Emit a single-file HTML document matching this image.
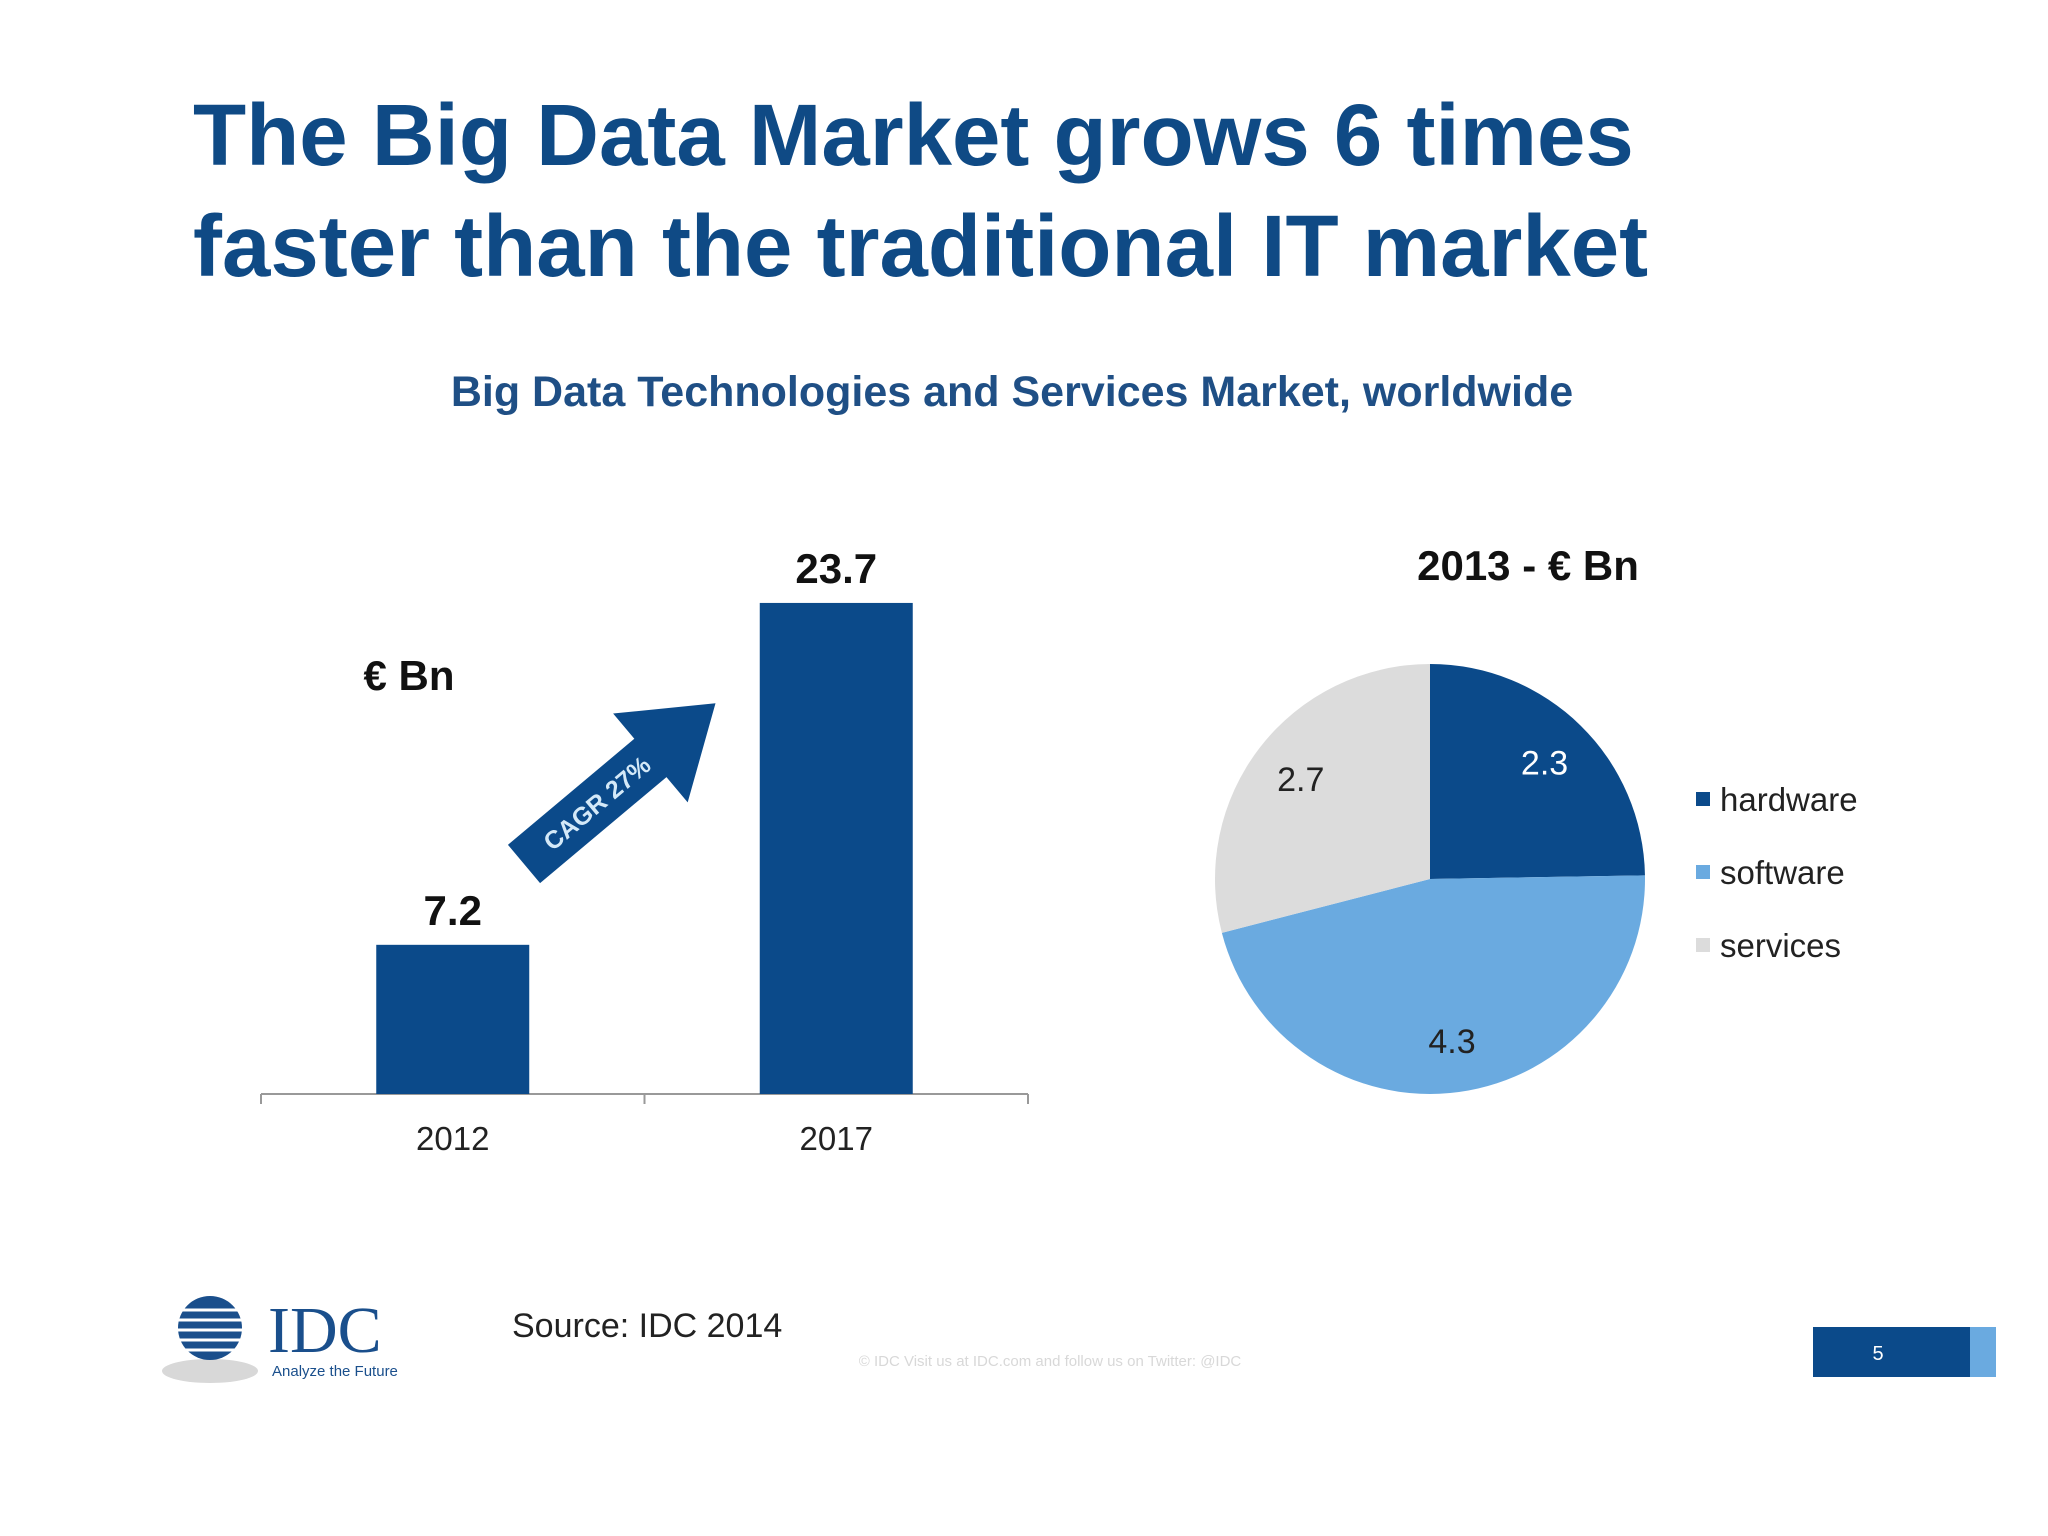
<!DOCTYPE html>
<html><head><meta charset="utf-8"><style>
html,body{margin:0;padding:0;background:#fff;}
svg{display:block;font-family:"Liberation Sans",Arial,sans-serif;}
</style></head><body>
<svg id="s" width="2048" height="1536" viewBox="0 0 2048 1536">
<rect width="2048" height="1536" fill="#fff"/>
<text x="193" y="165" font-size="87" font-weight="bold" fill="#0f4a85">The Big Data Market grows 6 times</text>
<text x="193" y="276" font-size="87" font-weight="bold" fill="#0f4a85">faster than the traditional IT market</text>
<text x="1012" y="406" font-size="43" font-weight="bold" fill="#1f4f85" text-anchor="middle">Big Data Technologies and Services Market, worldwide</text>
<text x="409" y="690" font-size="42" font-weight="bold" fill="#111" text-anchor="middle">€ Bn</text>
<g id="bars"></g>
<g transform="translate(524,864) rotate(-40)">
<polygon points="0,-25 165,-25 165,-58 250,0 165,58 165,25 0,25" fill="#0b4a8a"/>
<text x="95" y="9" font-size="25" font-weight="bold" fill="#d4e9f8" text-anchor="middle">CAGR 27%</text>
</g>
<text x="1528" y="580" font-size="42" font-weight="bold" fill="#111" text-anchor="middle">2013 - € Bn</text>
<g id="pie"></g>
<g id="legend"></g>
<g>
<ellipse cx="210" cy="1371" rx="48" ry="12" fill="#d8d8d8"/>
<circle cx="210" cy="1328" r="32" fill="#1a4f8c"/>
<g stroke="#fff" stroke-width="3"><line x1="160" y1="1310" x2="262" y2="1310"/><line x1="160" y1="1320" x2="262" y2="1320"/><line x1="160" y1="1330" x2="262" y2="1330"/><line x1="160" y1="1340" x2="262" y2="1340"/><line x1="160" y1="1350" x2="262" y2="1350"/></g>
<text x="268" y="1352" font-size="66" font-family="Liberation Serif,serif" fill="#1a4f8c">IDC</text>
<text x="272" y="1376" font-size="15" fill="#1a4f8c">Analyze the Future</text>
</g>
<text x="512" y="1337" font-size="34" fill="#222">Source: IDC 2014</text>
<text x="1050" y="1366" font-size="15" fill="#d8d8d8" text-anchor="middle">© IDC   Visit us at IDC.com and follow us on Twitter: @IDC</text>
<g>
<rect x="1813" y="1327" width="157" height="50" fill="#0b4a8a"/>
<rect x="1970" y="1327" width="26" height="50" fill="#6aaae0"/>
<text x="1878" y="1360" font-size="20" fill="#fff" text-anchor="middle">5</text>
</g>
</svg>
<script>
const NS="http://www.w3.org/2000/svg";
const years=["2012","2017"];
const marketValues=[7.2,23.7];
const pieLabels=["hardware","software","services"];
const pieValues=[2.3,4.3,2.7];
const pieColors=["#0b4a8a","#6aaae0","#dcdcdc"];

function mk(tag,attrs,parent,txt){const e=document.createElementNS(NS,tag);for(const k in attrs)e.setAttribute(k,attrs[k]);if(txt!==undefined)e.textContent=txt;parent.appendChild(e);return e;}
const bars=document.getElementById('bars');
const x0=261,x1=1028,base=1094,pxPerUnit=20.72,bw=153;
const bandW=(x1-x0)/years.length;
const yS=v=>base-v*pxPerUnit;
const xC=i=>x0+bandW*(i+0.5);
const ax=mk('line',{x1:x0,y1:base,x2:x1,y2:base,stroke:'#999','stroke-width':2},bars);


for(let i=0;i<=years.length;i++){const t=mk('line',{x1:x0+bandW*i,y1:base,x2:x0+bandW*i,y2:base+10,stroke:'#999','stroke-width':2},bars);

}
years.forEach((y,i)=>{
 const r=mk('rect',{x:xC(i)-bw/2,y:yS(marketValues[i]),width:bw,height:base-yS(marketValues[i]),fill:'#0b4a8a'},bars);
 
 
 const v=mk('text',{x:xC(i),y:yS(marketValues[i])-20,'font-size':42,'font-weight':'bold',fill:'#111','text-anchor':'middle'},bars,String(marketValues[i]));
 
 
 const l=mk('text',{x:xC(i),y:1150,'font-size':33,fill:'#222','text-anchor':'middle'},bars,y);
 
 
});
const pie=document.getElementById('pie');
const cx=1430,cy=879,R=215;
const tot=pieValues.reduce((a,b)=>a+b,0);
let a=0;
const labelColors=["#fff","#222","#222"];
pieValues.forEach((v,i)=>{
 const a0=a,a1=a+v/tot*2*Math.PI;a=a1;
 const p=t=>[cx+R*Math.sin(t),cy-R*Math.cos(t)];
 const [sx,sy]=p(a0),[ex,ey]=p(a1);
 const s=mk('path',{d:`M${cx},${cy} L${sx},${sy} A${R},${R} 0 ${a1-a0>Math.PI?1:0} 1 ${ex},${ey} Z`,fill:pieColors[i]},pie);
 
 
 const m=(a0+a1)/2,lr=R*0.76;
 const t=mk('text',{x:cx+lr*Math.sin(m),y:cy-lr*Math.cos(m)+12,'font-size':34,fill:labelColors[i],'text-anchor':'middle'},pie,String(v));
 
 
});
const lg=document.getElementById('legend');
pieLabels.forEach((n,i)=>{
 const y=799+i*73;
 const sq=mk('rect',{x:1696,y:y-7,width:14,height:14,fill:pieColors[i]},lg);
 
 
 const t=mk('text',{x:1720,y:y+12,'font-size':33,fill:'#222'},lg,n);
 
 
});
</script>
</body></html>
